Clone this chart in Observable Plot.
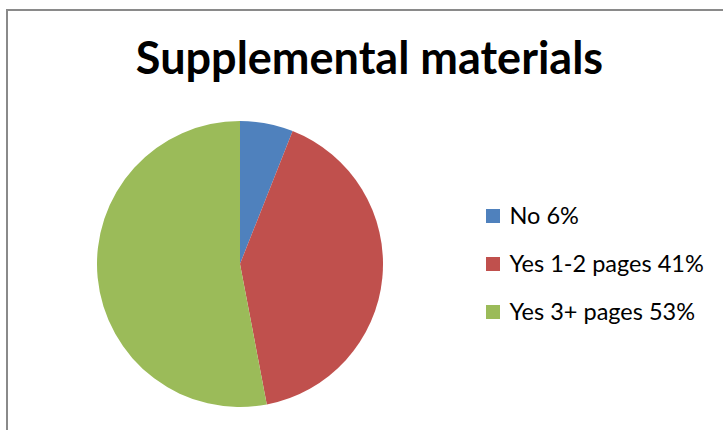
<!DOCTYPE html>
<html><head><meta charset="utf-8">
<script src="https://cdn.jsdelivr.net/npm/d3@7"></script>
<script src="https://cdn.jsdelivr.net/npm/@observablehq/plot@0.6"></script>
<style>
body{margin:0;background:#fff;overflow:hidden}
#wrap{position:relative;width:723px;height:430px}
#frame{position:absolute;left:6px;top:9px;width:730px;height:440px;border-left:2px solid #8a8a8a;border-top:2px solid #8a8a8a;box-sizing:border-box;pointer-events:none}
#chart{position:absolute;left:0;top:0}
</style>
</head><body><div id="wrap"><div id="chart"></div><div id="frame"></div></div>
<script>
const title = "Supplemental materials";
const categories = ["No", "Yes 1-2 pages", "Yes 3+ pages"];
const values = [6, 41, 53];
const legendLabels = ["No 6%", "Yes 1-2 pages 41%", "Yes 3+ pages 53%"];
const colors = ["#4F81BD", "#C0504D", "#9BBB59"];

const data = categories.map((c, i) => ({category: c, value: values[i], label: legendLabels[i], i}));
const arcs = d3.pie().sort(null).value(d => d.value)(data);

const W = 723, H = 430;
const center = {x: 240, y: 264};
const radius = 143;
const legend = {x: 486, y0: 216, dy: 48, box: 14, textX: 509};

function pieMark(index, scales) {
  const g = d3.create("svg:g")
    .attr("transform", `translate(${scales.x(center.x)},${scales.y(center.y)})`);
  const arc = d3.arc().innerRadius(0).outerRadius(radius);
  g.selectAll("path").data(arcs).join("path")
    .attr("d", arc)
    .attr("fill", d => scales.color(d.data.category))
    .attr("stroke", "none");
  return g.node();
}

const chart = Plot.plot({
  width: W, height: H,
  margin: 0,
  x: {domain: [0, W], range: [0, W], axis: null},
  y: {domain: [0, H], range: [0, H], axis: null},
  color: {domain: categories, range: colors},
  style: {background: "transparent"},
  marks: [
    pieMark,
    Plot.text([title], {x: 369, y: 59, text: d => d, fontSize: 45, fontWeight: "bold",
      fontFamily: "Lato", fill: "#000", textAnchor: "middle", lineAnchor: "middle"}),
    Plot.rect(data, {
      x1: legend.x, x2: legend.x + legend.box,
      y1: d => legend.y0 + d.i * legend.dy - legend.box / 2,
      y2: d => legend.y0 + d.i * legend.dy + legend.box / 2,
      fill: "category"
    }),
    Plot.text(data, {x: legend.textX, y: d => legend.y0 + d.i * legend.dy, text: "label",
      textAnchor: "start", lineAnchor: "middle", fontSize: 23.5, fontFamily: "Lato", fill: "#000"})
  ]
});
document.getElementById("chart").appendChild(chart);
</script>
</body></html>
